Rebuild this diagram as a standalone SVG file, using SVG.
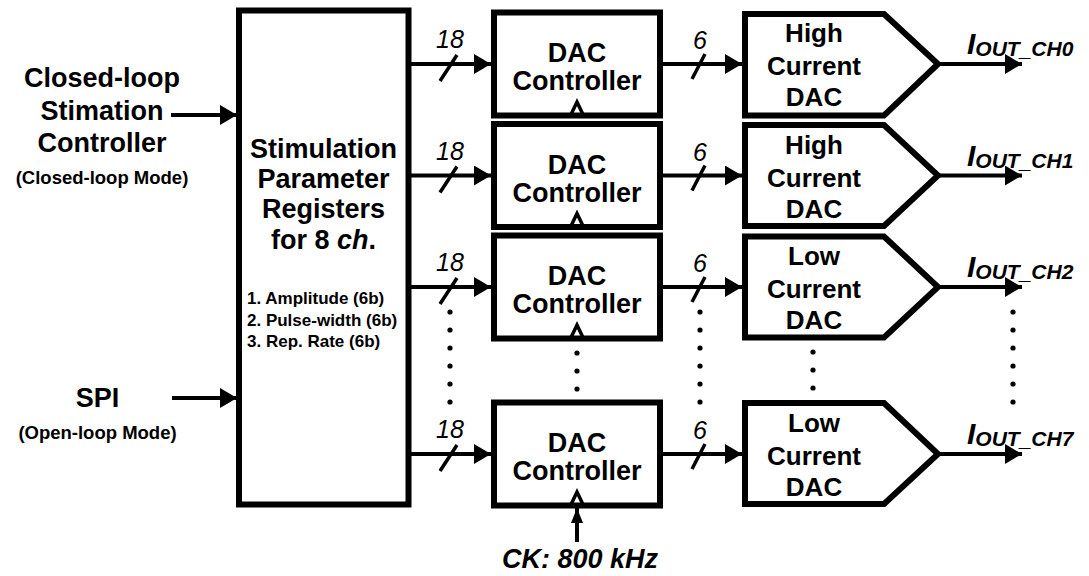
<svg xmlns="http://www.w3.org/2000/svg" width="1089" height="576" viewBox="0 0 1089 576">
<defs>
<style>
.box{fill:#fff;stroke:#000;stroke-width:6;stroke-linejoin:miter}
.t{font-family:"Liberation Sans",Arial,sans-serif;font-weight:bold;fill:#000;text-anchor:middle}
.l{font-size:27px}
.m{font-size:26px}
.s{font-size:18.5px}
.li{font-family:"Liberation Sans",Arial,sans-serif;font-weight:bold;font-size:17px;fill:#000}
.w{stroke:#000;stroke-width:4;fill:none}
.sl{stroke:#000;stroke-width:3.5;fill:none}
.ck{stroke:#000;stroke-width:3.5;fill:none;stroke-linejoin:miter}
.n{font-family:"Liberation Sans",Arial,sans-serif;font-style:italic;font-size:25px;text-anchor:middle;fill:#000}
.io{font-family:"Liberation Sans",Arial,sans-serif;font-style:italic;font-weight:bold;fill:#000}
.dot{fill:#000}
</style>
<marker id="ah" markerUnits="userSpaceOnUse" markerWidth="17" markerHeight="20" refX="17" refY="10" orient="auto"><path d="M0,0L17,10L0,20z" fill="#000"/></marker>
<marker id="ahs" markerUnits="userSpaceOnUse" markerWidth="15" markerHeight="12" refX="15" refY="6" orient="auto"><path d="M0,0L15,6L0,12z" fill="#000"/></marker>
</defs>

<g id="connectors">
  <line class="w" x1="171" y1="115" x2="237" y2="115" marker-end="url(#ah)"/>
  <line class="w" x1="172" y1="398" x2="237" y2="398" marker-end="url(#ah)"/>
  <line class="w" x1="411" y1="64" x2="491" y2="64" marker-end="url(#ah)"/>
  <line class="w" x1="411" y1="175.5" x2="491" y2="175.5" marker-end="url(#ah)"/>
  <line class="w" x1="411" y1="287" x2="491" y2="287" marker-end="url(#ah)"/>
  <line class="w" x1="411" y1="454" x2="491" y2="454" marker-end="url(#ah)"/>
  <line class="sl" x1="440" y1="81" x2="457" y2="55"/>
  <line class="sl" x1="440" y1="192.5" x2="457" y2="166.5"/>
  <line class="sl" x1="440" y1="304" x2="457" y2="278"/>
  <line class="sl" x1="440" y1="471" x2="457" y2="445"/>
  <text class="n" x="450" y="48">18</text>
  <text class="n" x="450" y="159.5">18</text>
  <text class="n" x="450" y="271">18</text>
  <text class="n" x="450" y="438">18</text>
  <line class="w" x1="663" y1="64" x2="742" y2="64" marker-end="url(#ah)"/>
  <line class="w" x1="663" y1="175.5" x2="742" y2="175.5" marker-end="url(#ah)"/>
  <line class="w" x1="663" y1="287" x2="742" y2="287" marker-end="url(#ah)"/>
  <line class="w" x1="663" y1="454" x2="742" y2="454" marker-end="url(#ah)"/>
  <line class="sl" x1="692" y1="79" x2="705" y2="54"/>
  <line class="sl" x1="692" y1="190.5" x2="705" y2="165.5"/>
  <line class="sl" x1="692" y1="302" x2="705" y2="277"/>
  <line class="sl" x1="692" y1="469" x2="705" y2="444"/>
  <text class="n" x="700" y="49">6</text>
  <text class="n" x="700" y="160.5">6</text>
  <text class="n" x="700" y="272">6</text>
  <text class="n" x="700" y="439">6</text>
  <line class="w" x1="938" y1="64" x2="1022" y2="64" marker-end="url(#ah)"/>
  <line class="w" x1="938" y1="175.5" x2="1022" y2="175.5" marker-end="url(#ah)"/>
  <line class="w" x1="938" y1="287" x2="1022" y2="287" marker-end="url(#ah)"/>
  <line class="w" x1="938" y1="454" x2="1022" y2="454" marker-end="url(#ah)"/>
  <line class="w" x1="577" y1="542" x2="577" y2="508" stroke-width="3" marker-end="url(#ahs)"/>
  <text class="io" x="580" y="568" font-size="27" text-anchor="middle">CK: 800 kHz</text>
  <g class="dot">
    <circle cx="450" cy="312" r="2.6"/><circle cx="450" cy="330" r="2.6"/><circle cx="450" cy="348" r="2.6"/><circle cx="450" cy="366" r="2.6"/><circle cx="450" cy="384" r="2.6"/><circle cx="450" cy="402" r="2.6"/>
    <circle cx="577" cy="353" r="2.6"/><circle cx="577" cy="371" r="2.6"/><circle cx="577" cy="389" r="2.6"/>
    <circle cx="700" cy="312" r="2.6"/><circle cx="700" cy="330" r="2.6"/><circle cx="700" cy="348" r="2.6"/><circle cx="700" cy="366" r="2.6"/><circle cx="700" cy="384" r="2.6"/><circle cx="700" cy="402" r="2.6"/>
    <circle cx="813" cy="352" r="2.6"/><circle cx="813" cy="370" r="2.6"/><circle cx="813" cy="388" r="2.6"/>
    <circle cx="1013" cy="312" r="2.6"/><circle cx="1013" cy="330" r="2.6"/><circle cx="1013" cy="348" r="2.6"/><circle cx="1013" cy="366" r="2.6"/><circle cx="1013" cy="384" r="2.6"/><circle cx="1013" cy="402" r="2.6"/>
  </g>
</g>

<g id="input-closed-loop">
  <text class="t l" x="102" y="87">Closed-loop</text>
  <text class="t l" x="102" y="120">Stimation</text>
  <text class="t l" x="102" y="152">Controller</text>
  <text class="t s" x="102" y="184">(Closed-loop Mode)</text>
</g>
<g id="input-spi">
  <text class="t l" x="97.5" y="407">SPI</text>
  <text class="t s" x="97.5" y="439">(Open-loop Mode)</text>
</g>

<g id="registers">
  <rect class="box" x="239" y="10.5" width="169.5" height="494" stroke-width="5.5"/>
  <text class="t l" x="323.5" y="158">Stimulation</text>
  <text class="t l" x="323.5" y="188">Parameter</text>
  <text class="t l" x="323.5" y="218">Registers</text>
  <text class="t l" x="323.5" y="249">for 8 <tspan font-style="italic">ch</tspan>.</text>
  <text class="li" x="247" y="304">1. Amplitude (6b)</text>
  <text class="li" x="247" y="326">2. Pulse-width (6b)</text>
  <text class="li" x="247" y="347">3. Rep. Rate (6b)</text>
</g>

<g id="dac-ctrl-0">
  <rect class="box" x="494" y="12.5" width="166" height="103"/>
  <polyline class="ck" points="570.5,115.5 577,102 583.5,115.5"/>
  <text class="t l" x="577" y="62">DAC</text>
  <text class="t l" x="577" y="90">Controller</text>
</g>
<g id="dac-ctrl-1">
  <rect class="box" x="494" y="124" width="166" height="103"/>
  <polyline class="ck" points="570.5,227 577,213.5 583.5,227"/>
  <text class="t l" x="577" y="173.5">DAC</text>
  <text class="t l" x="577" y="201.5">Controller</text>
</g>
<g id="dac-ctrl-2">
  <rect class="box" x="494" y="235.5" width="166" height="103"/>
  <polyline class="ck" points="570.5,338.5 577,325 583.5,338.5"/>
  <text class="t l" x="577" y="285">DAC</text>
  <text class="t l" x="577" y="313">Controller</text>
</g>
<g id="dac-ctrl-7">
  <rect class="box" x="494" y="402.5" width="166" height="103"/>
  <polyline class="ck" points="570.5,505.5 577,492 583.5,505.5"/>
  <text class="t l" x="577" y="452">DAC</text>
  <text class="t l" x="577" y="480">Controller</text>
</g>

<g id="dac-0">
  <polygon class="box" points="745,14 884,14 938,64 884,115.5 745,115.5"/>
  <text class="t m" x="814" y="42">High</text>
  <text class="t m" x="814" y="75">Current</text>
  <text class="t m" x="814" y="106">DAC</text>
</g>
<g id="dac-1">
  <polygon class="box" points="745,125 884,125 938,175.5 884,226 745,226"/>
  <text class="t m" x="814" y="153.5">High</text>
  <text class="t m" x="814" y="186.5">Current</text>
  <text class="t m" x="814" y="217.5">DAC</text>
</g>
<g id="dac-2">
  <polygon class="box" points="745,236.5 884,236.5 938,287 884,337.5 745,337.5"/>
  <text class="t m" x="814" y="265">Low</text>
  <text class="t m" x="814" y="298">Current</text>
  <text class="t m" x="814" y="329">DAC</text>
</g>
<g id="dac-7">
  <polygon class="box" points="745,403 884,403 938,454 884,504 745,504"/>
  <text class="t m" x="814" y="432">Low</text>
  <text class="t m" x="814" y="465">Current</text>
  <text class="t m" x="814" y="496">DAC</text>
</g>

<g id="outputs">
  <text class="io" x="967" y="54" font-size="30">I<tspan font-size="21" dy="2">OUT_CH0</tspan></text>
  <text class="io" x="967" y="165.5" font-size="30">I<tspan font-size="21" dy="2">OUT_CH1</tspan></text>
  <text class="io" x="967" y="277" font-size="30">I<tspan font-size="21" dy="2">OUT_CH2</tspan></text>
  <text class="io" x="967" y="444" font-size="30">I<tspan font-size="21" dy="2">OUT_CH7</tspan></text>
</g>
</svg>
